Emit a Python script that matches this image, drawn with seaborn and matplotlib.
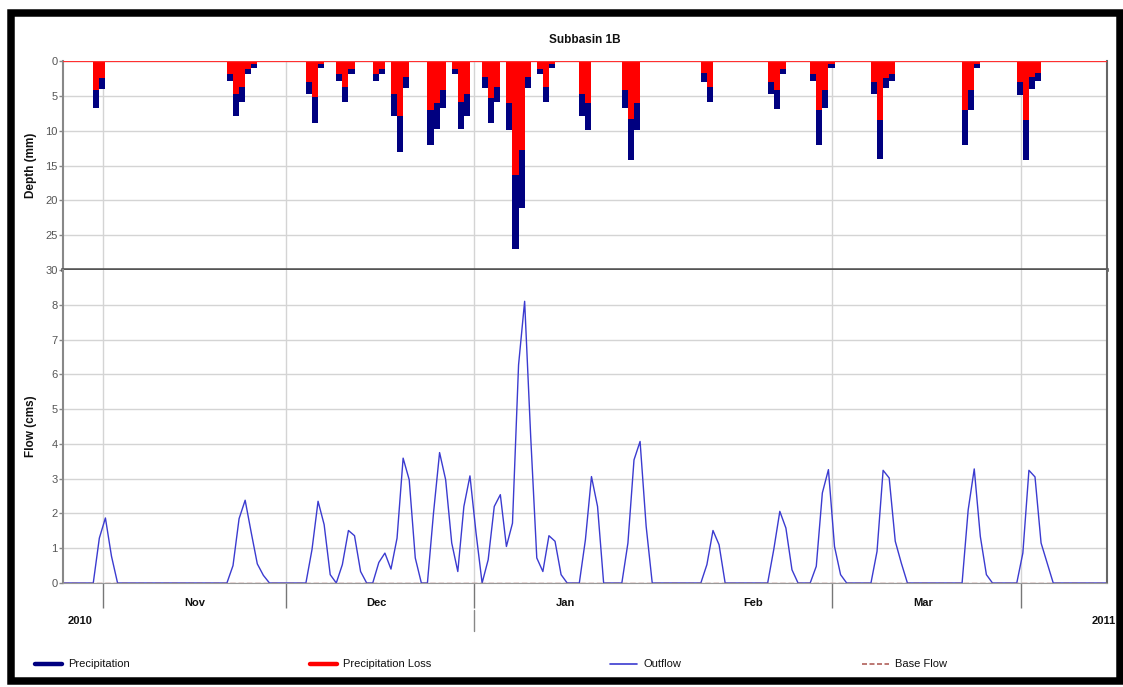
import numpy as np
import pandas as pd
import matplotlib
matplotlib.use("Agg")
import matplotlib.pyplot as plt
import matplotlib.dates as mdates
import matplotlib.transforms as mtransforms
import seaborn as sns
from matplotlib.lines import Line2D
from matplotlib.patches import Rectangle

# precipitation storms: first day of each run, daily total depth and loss (mm)
precip_start = ["2010-10-30", "2010-11-21", "2010-12-04", "2010-12-09", "2010-12-15",
                "2010-12-18", "2010-12-24", "2010-12-28", "2011-01-02", "2011-01-06",
                "2011-01-11", "2011-01-18", "2011-01-25", "2011-02-07", "2011-02-18",
                "2011-02-25", "2011-03-07", "2011-03-22", "2011-03-31"]
precip_total = [[6.8, 4.0], [2.9, 7.9, 5.9, 1.9, 1.0], [4.8, 8.9, 1.0], [2.9, 5.9, 1.9],
                [2.9, 1.9], [7.9, 13.0, 3.9], [12.0, 9.8, 6.8], [1.8, 9.8, 7.9],
                [3.9, 8.9, 5.9], [9.9, 27.0, 21.1, 3.9], [1.9, 5.9, 1.0], [7.9, 9.9],
                [6.8, 14.2, 9.9], [3.0, 5.9], [4.8, 6.9, 1.8], [2.9, 12.0, 6.8, 1.0],
                [4.8, 14.1, 3.9, 2.9], [12.0, 7.0, 1.0], [4.9, 14.2, 4.0, 2.9]]
precip_loss = [[4.2, 2.4], [1.8, 4.8, 3.7, 1.2, 0.5], [3.0, 5.2, 0.5], [1.8, 3.7, 1.2],
               [1.8, 1.2], [4.7, 7.9, 2.3], [7.1, 6.0, 4.2], [1.1, 5.9, 4.8],
               [2.3, 5.3, 3.7], [6.0, 16.4, 12.8, 2.3], [1.2, 3.7, 0.5], [4.7, 6.0],
               [4.2, 8.3, 6.0], [1.7, 3.7], [3.0, 4.2, 1.1], [1.8, 7.1, 4.2, 0.5],
               [3.0, 8.4, 2.4, 1.8], [7.1, 4.2, 0.5], [3.0, 8.4, 2.3, 1.7]]

# outflow hydrograph: first day of each non-zero run and daily flow (cms)
flow_start = ["2010-10-31", "2010-11-22", "2010-12-05", "2010-12-10", "2010-12-16",
              "2010-12-25", "2011-01-03", "2011-01-19", "2011-01-26", "2011-02-08",
              "2011-02-19", "2011-02-26", "2011-03-08", "2011-03-23", "2011-04-01"]
flow_cms = [[1.29, 1.87, 0.77], [0.5, 1.85, 2.38, 1.45, 0.55, 0.22],
            [0.96, 2.35, 1.68, 0.24], [0.53, 1.51, 1.36, 0.33],
            [0.59, 0.86, 0.40, 1.29, 3.59, 2.97, 0.72],
            [2.01, 3.75, 2.97, 1.15, 0.33, 2.2, 3.08, 1.44],
            [0.67, 2.2, 2.54, 1.05, 1.72, 6.27, 8.1, 4.2, 0.72, 0.33, 1.36, 1.2, 0.24],
            [1.24, 3.06, 2.2], [1.15, 3.54, 4.07, 1.63], [0.53, 1.51, 1.1],
            [0.96, 2.06, 1.58, 0.38], [0.48, 2.59, 3.26, 1.05, 0.24],
            [0.91, 3.24, 3.02, 1.2, 0.57], [2.1, 3.28, 1.34, 0.24],
            [0.86, 3.24, 3.05, 1.15, 0.57]]

period = ("2010-10-25", "2011-04-15")
month_names = ["Nov", "Dec", "Jan", "Feb", "Mar"]
month_label_dates = ["2010-11-16", "2010-12-16", "2011-01-16", "2011-02-16", "2011-03-16"]
month_tick_dates = ["2010-11-01", "2010-12-01", "2011-01-01", "2011-03-01", "2011-04-01"]


def runs_to_series(starts, runs):
    parts = [pd.Series(v, index=pd.date_range(s, periods=len(v), freq="D"))
             for s, v in zip(starts, runs)]
    return pd.concat(parts)


total = runs_to_series(precip_start, precip_total)
loss = runs_to_series(precip_start, precip_loss)
days = pd.date_range(*period, freq="D")
outflow = runs_to_series(flow_start, flow_cms).reindex(days, fill_value=0.0)
baseflow = pd.Series(0.0, index=days)

shift = 0.35  # HMS draws each daily step slightly after midnight
xp = mdates.date2num(total.index) + shift
xf = mdates.date2num(days) + shift

sns.set_theme(style="white")
plt.rcParams['font.family'] = ['Liberation Sans', 'DejaVu Sans']

W, H = 1123, 687
fig = plt.figure(figsize=(W / 100, H / 100), dpi=100)


def box(l, t, r, b):
    return [l / W, 1 - b / H, (r - l) / W, (b - t) / H]


ax1 = fig.add_axes(box(63, 61, 1107, 270))
ax2 = fig.add_axes(box(63, 270, 1107, 583))

xlim = (mdates.date2num(pd.Timestamp("2010-10-25")) + 0.37,
        mdates.date2num(pd.Timestamp("2011-04-15")) + 0.2)
grid_c = "#d4d4d4"
mticks = mdates.date2num(pd.to_datetime(month_tick_dates))

# depth panel
ax1.bar(xp, total.values, width=1.0, align="edge", color="#000080", linewidth=0)
ax1.bar(xp, loss.values, width=1.0, align="edge", color="#ff0000", linewidth=0)
ax1.set_ylim(30, 0)
ax1.set_yticks(range(0, 31, 5))
ax1.set_xlim(xlim)
ax1.set_xticks(mticks)
ax1.set_xticklabels([])
ax1.tick_params(axis="x", length=0)
ax1.set_ylabel("Depth (mm)", fontsize=8.5, fontweight="bold", color="#111")
ax1.yaxis.set_label_coords(-0.025, 0.5)
ax1.axhline(0, color="#ff3030", lw=0.9, zorder=5)

# flow panel
sns.lineplot(x=xf, y=outflow.values, ax=ax2, color="#3b3bd0", lw=1.0)
sns.lineplot(x=xf, y=baseflow.values, ax=ax2, color="#b0605a", lw=1.0,
             linestyle=(0, (4, 2)))
ax2.set_ylim(0, 9)
ax2.set_yticks(range(0, 9))
ax2.set_xlim(xlim)
ax2.set_xticks(mticks)
ax2.set_xticklabels([])
ax2.tick_params(axis="x", bottom=True, length=18, width=1, color="#777",
                direction="out")
ax2.set_ylabel("Flow (cms)", fontsize=8.5, fontweight="bold", color="#111")
ax2.yaxis.set_label_coords(-0.025, 0.5)

for ax in (ax1, ax2):
    ax.set_facecolor("white")
    ax.grid(True, color=grid_c, lw=1.0)
    ax.set_axisbelow(True)
    ax.tick_params(axis="y", length=3, width=1, color="#888", labelsize=8,
                   labelcolor="#555", pad=1, left=True)
    for s in ax.spines.values():
        s.set_visible(True)
    ax.spines["left"].set_color("#888")
    ax.spines["left"].set_linewidth(1.5)
    ax.spines["right"].set_color("#666")
    ax.spines["right"].set_linewidth(1.5)
ax1.spines["top"].set_visible(False)
ax1.spines["bottom"].set_color("#555")
ax1.spines["bottom"].set_linewidth(2.6)
ax2.spines["top"].set_visible(False)
ax2.spines["bottom"].set_color("#999")
ax2.spines["bottom"].set_linewidth(0.8)

# month and year labels under the time axis
blend = mtransforms.blended_transform_factory(ax2.transData, fig.transFigure)
for name, d in zip(month_names, month_label_dates):
    ax2.text(mdates.date2num(pd.Timestamp(d)), 1 - 603 / H, name, transform=blend,
             ha="center", va="center", fontsize=8, fontweight="bold", color="#111")
fig.text(68 / W, 1 - 621 / H, "2010", ha="left", va="center", fontsize=8,
         fontweight="bold", color="#111")
fig.text(1116 / W, 1 - 621 / H, "2011", ha="right", va="center", fontsize=8,
         fontweight="bold", color="#111")
jan1 = mdates.date2num(pd.Timestamp("2011-01-01"))
fig.add_artist(Line2D([jan1, jan1], [1 - 610 / H, 1 - 631 / H], transform=blend,
                      color="#888", lw=1))

fig.text(585 / W, 1 - 40 / H, "Subbasin 1B", ha="center", va="center", fontsize=8.5,
         fontweight="bold", color="#111")

# legend row
legend_items = [("Precipitation", "#000080", 3.2, "-", 35),
                ("Precipitation Loss", "#ff0000", 3.2, "-", 310),
                ("Outflow", "#3b3bd0", 1.2, "-", 610),
                ("Base Flow", "#b0605a", 1.2, (0, (3, 1.5)), 862)]
ly = 1 - 664 / H
for label, col, lw, ls, x0 in legend_items:
    fig.add_artist(Line2D([x0 / W, (x0 + 27) / W], [ly, ly], transform=fig.transFigure,
                          color=col, lw=lw, linestyle=ls))
    fig.text((x0 + 33) / W, ly, label, ha="left", va="center", fontsize=8,
             color="#111")

# outer frame
fig.add_artist(Rectangle((11 / W, 1 - 681 / H), (1120 - 11) / W, (681 - 13) / H,
                         transform=fig.transFigure, fill=False, edgecolor="black",
                         lw=5.4))

fig.savefig("out.png", dpi=100, facecolor="white")
